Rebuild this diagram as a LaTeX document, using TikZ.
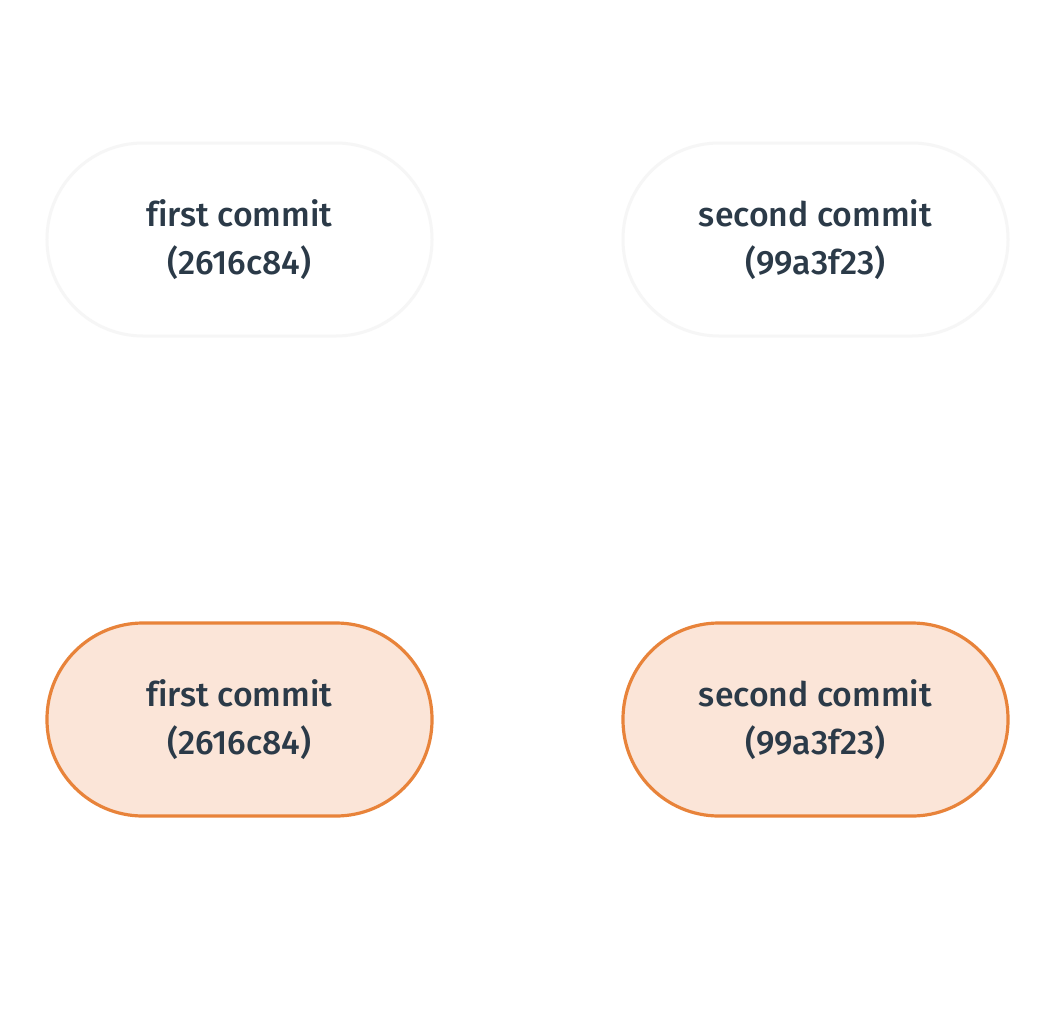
\documentclass[tikz,border=0pt]{standalone}
\usepackage{fontspec}
\setmainfont{Fira Sans}[UprightFont=* Medium, Ligatures=NoCommon]
\definecolor{txt}{HTML}{2B3A48}
\definecolor{orng}{HTML}{E8833A}
\definecolor{peach}{HTML}{FBE5D8}
\definecolor{faint}{HTML}{F6F6F6}
\tikzset{
  commit/.style={rectangle, rounded corners=96bp, minimum width=385bp, minimum height=193bp,
    align=center, text=txt, font=\fontsize{33.8bp}{48bp}\selectfont, inner sep=0pt},
  ghost/.style={commit, draw=faint, line width=3bp, fill=white},
  active/.style={commit, draw=orng, line width=3.2bp, fill=peach},
}
\begin{document}
\begin{tikzpicture}[x=1bp,y=-1bp]
\useasboundingbox (0,0) rectangle (1056,1032);
\fill[white] (0,0) rectangle (1056,1032);
\node[ghost] (g1) at (239.5,239.5) {first commit\\(2616c84)};
\node[ghost] (g2) at (815.5,239.5) {second commit\\(99a3f23)};
\node[active] (c1) at (239.5,719.5) {first commit\\(2616c84)};
\node[active] (c2) at (815.5,719.5) {second commit\\(99a3f23)};
\end{tikzpicture}
\end{document}
